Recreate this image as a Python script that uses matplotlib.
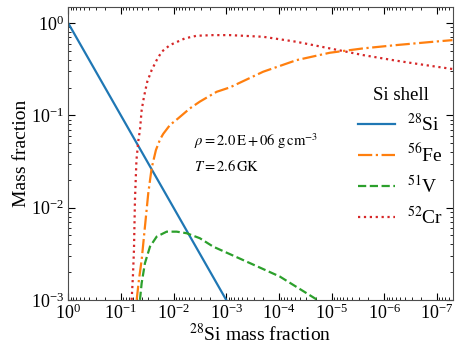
import matplotlib
matplotlib.use("Agg")
import matplotlib.pyplot as plt
from matplotlib.ticker import LogLocator
import numpy as np

plt.rcParams['font.family'] = ['Liberation Serif', 'DejaVu Serif']
plt.rcParams['mathtext.fontset'] = 'stix'

# 28Si
si_x = [1.0, 1.0e-3]
si_y = [1.0, 1.0e-3]

# 56Fe
fe_x = [0.0501, 0.0454, 0.0403, 0.0349, 0.0302, 0.0260, 0.0216, 0.0180, 0.0157, 0.0117,
        8.14e-3, 4.89e-3, 3.16e-3, 1.52e-3, 8.51e-4, 1.99e-4, 4.61e-5, 1.08e-5,
        2.51e-6, 5.85e-7, 1.36e-7, 5.06e-8]
fe_y = [1.0e-3, 1.65e-3, 2.71e-3, 6.22e-3, 0.0143, 0.0269, 0.0421, 0.0550, 0.0630, 0.0786,
        0.0929, 0.119, 0.141, 0.180, 0.201, 0.297, 0.397, 0.477,
        0.532, 0.578, 0.623, 0.654]

# 51V
v_x = [0.0434, 0.0403, 0.0349, 0.0280, 0.0209, 0.0135, 8.73e-3, 5.64e-3, 3.16e-3,
       1.77e-3, 4.10e-4, 9.57e-5, 1.86e-5]
v_y = [1.0e-3, 1.52e-3, 2.50e-3, 3.78e-3, 4.85e-3, 5.49e-3, 5.49e-3, 5.28e-3, 4.66e-3,
       3.78e-3, 2.60e-3, 1.79e-3, 1.0e-3]

# 52Cr
cr_x = [0.0624, 0.0589, 0.0564, 0.0540, 0.0506, 0.0464, 0.0434, 0.0403, 0.0364,
        0.0316, 0.0260, 0.0209, 0.0168, 0.0117, 6.08e-3, 3.65e-3, 1.79e-3, 8.51e-4,
        1.99e-4, 4.61e-5, 1.08e-5, 2.51e-6, 5.85e-7, 1.36e-7, 5.06e-8]
cr_y = [1.0e-3, 1.87e-3, 3.48e-3, 0.0121, 0.0328, 0.0541, 0.0693, 0.114, 0.159,
        0.231, 0.310, 0.397, 0.489, 0.578, 0.683, 0.729, 0.741, 0.741,
        0.711, 0.627, 0.532, 0.450, 0.391, 0.345, 0.318]

labels = [r'$^{28}$Si', r'$^{56}$Fe', r'$^{51}$V', r'$^{52}$Cr']

fig = plt.figure(figsize=(4.63, 3.52), dpi=100)
ax = fig.add_axes([0.1473, 0.148, 0.8305, 0.831])

lw = 1.6
ax.plot(si_x, si_y, color='#1f77b4', ls='-', lw=lw, label=labels[0])
ax.plot(fe_x, fe_y, color='#ff7f0e', ls='-.', lw=lw, label=labels[1])
ax.plot(v_x, v_y, color='#2ca02c', ls='--', lw=lw, label=labels[2])
ax.plot(cr_x, cr_y, color='#d62728', ls=':', lw=lw, label=labels[3])

ax.set_xscale('log')
ax.set_yscale('log')
ax.set_xlim(1.0, 5.0e-8)
ax.set_ylim(1.0e-3, 1.48)
ax.xaxis.set_major_locator(LogLocator(base=10, numticks=20))
ax.xaxis.set_minor_locator(LogLocator(base=10, subs=np.arange(2, 10), numticks=20))

ax.tick_params(which='both', direction='in', top=True, right=True, labelsize=13)
ax.tick_params(which='major', length=5, pad=3)
ax.tick_params(which='minor', length=2.5)
for s in ax.spines.values():
    s.set_color('0.3')

ax.set_xlabel(r'$^{28}$Si mass fraction', fontsize=14, labelpad=0)
ax.set_ylabel('Mass fraction', fontsize=14, labelpad=1)

ax.text(0.328, 0.525, r'$\rho = 2.0\,\mathrm{E}+06\ \mathrm{g\,cm^{-3}}$',
        transform=ax.transAxes, fontsize=10.5)
ax.text(0.328, 0.44, r'$T = 2.6\,\mathrm{GK}$', transform=ax.transAxes, fontsize=10.5)

leg = ax.legend(loc='center right', bbox_to_anchor=(1.02, 0.487), frameon=False,
                title='Si shell', fontsize=14, title_fontsize=13.5,
                handlelength=1.9, labelspacing=0.45, handletextpad=0.6)

fig.savefig('out.png', dpi=100)
